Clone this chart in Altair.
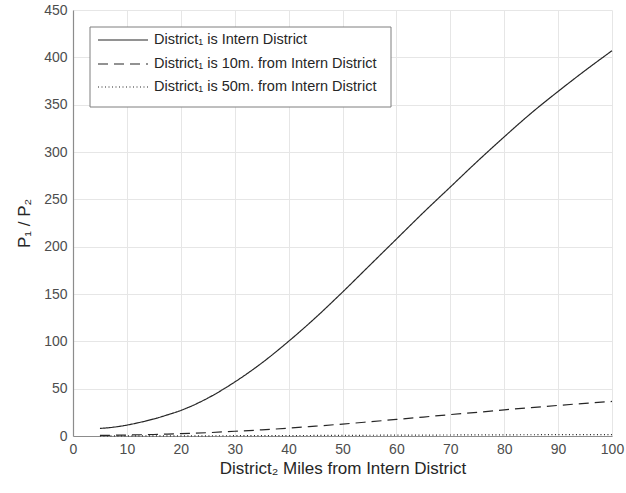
import altair as alt
import pandas as pd

# Distance of District 2 from the Intern District (miles)
miles = [5, 7.5, 10, 12.5, 15, 17.5, 20, 25, 30, 35, 40, 45, 50, 55, 60, 65, 70, 75, 80, 85, 90, 95, 100]

# Ratio P1 / P2 for each placement of District 1
ratio_intern = [8, 9.3, 11.5, 14.5, 18, 22.3, 27, 40, 57, 77, 100, 125, 152, 180, 208, 236, 263, 290, 316, 341, 364, 386, 407]
ratio_10m = [0.6, 0.8, 1.0, 1.3, 1.6, 2.0, 2.5, 3.5, 5.0, 6.5, 8.3, 10.4, 12.6, 15.0, 17.5, 20.0, 22.6, 25.0, 27.6, 30.0, 32.3, 34.5, 36.5]
ratio_50m = [0.05, 0.06, 0.08, 0.1, 0.12, 0.14, 0.17, 0.23, 0.3, 0.38, 0.47, 0.57, 0.68, 0.78, 0.88, 0.98, 1.07, 1.16, 1.25, 1.33, 1.4, 1.46, 1.5]

series_names = [
    "District\u2081 is Intern District",
    "District\u2081 is 10m. from Intern District",
    "District\u2081 is 50m. from Intern District",
]
series_values = [ratio_intern, ratio_10m, ratio_50m]
dash_styles = [[1, 0], [10, 6], [1, 2.5]]

rows = []
for name, vals in zip(series_names, series_values):
    for m, v in zip(miles, vals):
        rows.append({"miles": m, "ratio": v, "series": name})
df = pd.DataFrame(rows)

FONT = "Liberation Sans"
INK = "#262626"

curves = alt.Chart(df).mark_line(color=INK, strokeWidth=1.2, interpolate="monotone").encode(
    x=alt.X(
        "miles:Q",
        scale=alt.Scale(domain=[0, 100], nice=False),
        axis=alt.Axis(
            values=list(range(0, 101, 10)),
            title="District\u2082 Miles from Intern District",
        ),
    ),
    y=alt.Y(
        "ratio:Q",
        scale=alt.Scale(domain=[0, 450], nice=False),
        axis=alt.Axis(values=list(range(0, 451, 50)), title="P\u2081 / P\u2082"),
    ),
    strokeDash=alt.StrokeDash(
        "series:N",
        scale=alt.Scale(domain=series_names, range=dash_styles),
        legend=None,
    ),
    detail="series:N",
)

# Hand-built legend box in the upper left of the plot
one = alt.Data(values=[{"k": 1}])
legend_layers = [
    alt.Chart(one).mark_rect(fill="white", stroke="#7f7f7f", strokeWidth=1).encode(
        x=alt.value(17), x2=alt.value(318), y=alt.value(17), y2=alt.value(97)
    )
]
row_y = [30, 54, 77]
for name, dash, yy in zip(series_names, dash_styles, row_y):
    legend_layers.append(
        alt.Chart(one).mark_rule(color=INK, strokeWidth=1.2, strokeDash=dash).encode(
            x=alt.value(25), x2=alt.value(75), y=alt.value(yy)
        )
    )
    legend_layers.append(
        alt.Chart(one).mark_text(
            text=name, align="left", baseline="middle", font=FONT, fontSize=14.5, color=INK
        ).encode(x=alt.value(81), y=alt.value(yy))
    )

chart = (
    alt.layer(curves, *legend_layers)
    .properties(
        width=539,
        height=426,
        autosize=alt.AutoSizeParams(type="none"),
        padding={"left": 73, "top": 10, "right": 14, "bottom": 57},
    )
    .configure_view(stroke=None)
    .configure_axis(
        labelFont=FONT,
        titleFont=FONT,
        labelFontSize=14,
        titleFontSize=17,
        titleFontWeight="normal",
        labelColor="#4d4d4d",
        titleColor=INK,
        domainColor="#8c8c8c",
        domainWidth=1.2,
        gridColor="#e6e6e6",
        gridWidth=1,
        ticks=False,
        labelFlush=False,
        labelPadding=6,
    )
    .configure_axisX(titlePadding=4)
    .configure_axisY(titlePadding=10)
)

chart.save("out.html", embed_options={"renderer": "svg", "actions": False})
